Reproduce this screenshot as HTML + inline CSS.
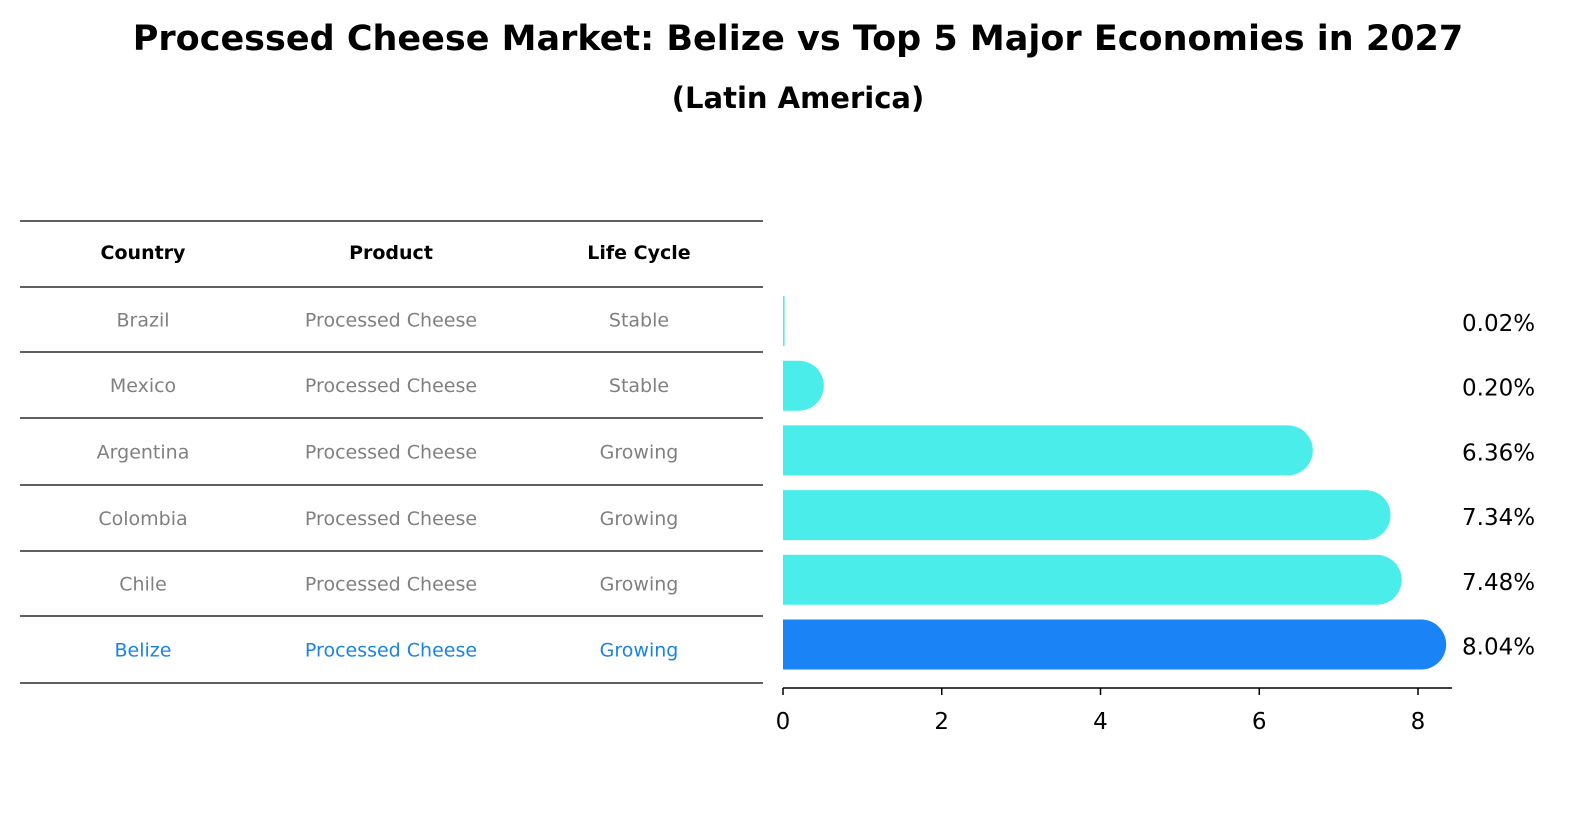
<!DOCTYPE html>
<html><head><meta charset="utf-8"><style>
body{margin:0;background:#fff;}
svg{display:block;font-family:"Liberation Sans","DejaVu Sans",sans-serif;}
</style></head><body>
<svg width="1586" height="823" viewBox="0 0 1586 823">
<text x="798" y="50" text-anchor="middle" font-size="35" font-weight="bold" font-family="DejaVu Sans, sans-serif">Processed Cheese Market: Belize vs Top 5 Major Economies in 2027</text>
<text x="798" y="108" text-anchor="middle" font-size="29" font-weight="bold" font-family="DejaVu Sans, sans-serif">(Latin America)</text>
<g id="table"></g>
<g id="bars"></g>
</svg>
<script>
const countries=["Brazil","Mexico","Argentina","Colombia","Chile","Belize"];
const products=["Processed Cheese","Processed Cheese","Processed Cheese","Processed Cheese","Processed Cheese","Processed Cheese"];
const lifecycle=["Stable","Stable","Growing","Growing","Growing","Growing"];
const values=[0.02,0.20,6.36,7.34,7.48,8.04];
const ticks=[0,2,4,6,8];
const NS="http://www.w3.org/2000/svg";
function mk(t,a,p){const e=document.createElementNS(NS,t);for(const k in a)e.setAttribute(k,a[k]);p.appendChild(e);return e;}
const tbl=document.getElementById('table');
const lineYs=[221,287,352,418,485,551,616,683];
lineYs.forEach(y=>{const l=mk('line',{x1:20,x2:763,y1:y,y2:y,stroke:'#000','stroke-width':1.2},tbl);

});
const colX=[143,391,639];
["Country","Product","Life Cycle"].forEach((h,i)=>{const t=mk('text',{x:colX[i],y:259,'text-anchor':'middle','font-size':19,'font-weight':'bold','font-family':'DejaVu Sans, sans-serif'},tbl);t.textContent=h;

});
countries.forEach((c,r)=>{const y=(lineYs[r+1]+lineYs[r+2])/2+7;const col=c==="Belize"?'#1a83e8':'#808080';
[c,products[r],lifecycle[r]].forEach((v,i)=>{const t=mk('text',{x:colX[i],y:y,'text-anchor':'middle','font-size':19,fill:col,'font-family':'DejaVu Sans, sans-serif'},tbl);t.textContent=v;

});});
const g=document.getElementById('bars');
const x0=783,pxPer=(1418-783)/8;
const xs=v=>x0+v*pxPer;
const rowY=i=>321+i*64.7;
const bh=50,r=25;
values.forEach((v,i)=>{const yc=rowY(i),xe=xs(v);const col=countries[i]==="Belize"?'#1a83f5':'#4aedea';
let d;
if(v*pxPer<2){d=`M${x0},${yc-bh/2}h${Math.max(xe-x0,1.5)}v${bh}h${-Math.max(xe-x0,1.5)}Z`;}
else{d=`M${x0},${yc-bh/2}H${xe}A${r},${r} 0 0 1 ${xe},${yc+bh/2}H${x0}Z`;}
const p=mk('path',{d:d,fill:col},g);


const t=mk('text',{x:1462,y:yc+10,'font-size':23,'font-family':'DejaVu Sans, sans-serif'},g);t.textContent=v.toFixed(2)+'%';

});
const ax=mk('line',{x1:x0,x2:1452,y1:688,y2:688,stroke:'#000','stroke-width':1.5},g);


ticks.forEach(tv=>{const tk=mk('line',{x1:xs(tv),x2:xs(tv),y1:688,y2:695,stroke:'#000','stroke-width':1.5},g);


const t=mk('text',{x:xs(tv),y:729,'text-anchor':'middle','font-size':23,'font-family':'DejaVu Sans, sans-serif'},g);t.textContent=tv;

});
</script>
</body></html>
